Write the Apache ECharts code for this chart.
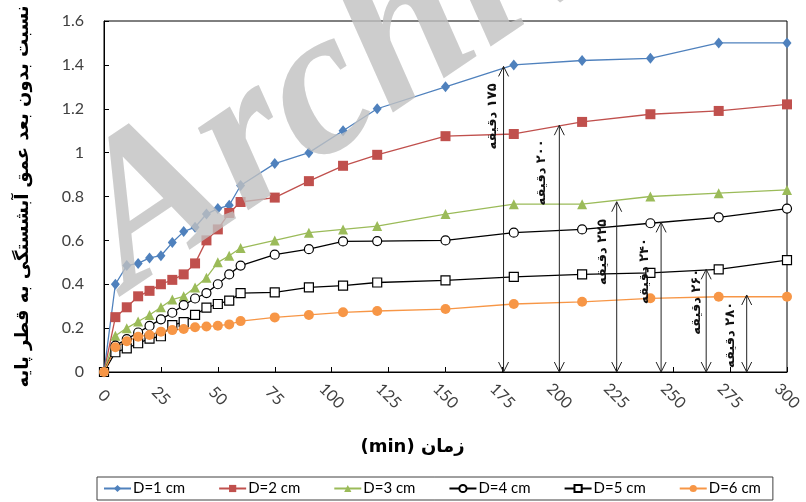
<!DOCTYPE html>
<html>
<head>
<meta charset="utf-8">
<script src="https://cdn.jsdelivr.net/npm/echarts@6/dist/echarts.min.js"></script>
<style>
html,body{margin:0;padding:0;background:#fff;}
#chart{width:806px;height:502px;}
</style>
</head>
<body>
<div id="chart"></div>
<script>
// ---- data ----
const times = [0,5,10,15,20,25,30,35,40,45,50,55,60,75,90,105,120,150,180,210,240,270,300];
const d1 = [0,0.40,0.485,0.495,0.52,0.53,0.59,0.64,0.66,0.72,0.745,0.76,0.85,0.95,1.00,1.10,1.20,1.30,1.40,1.42,1.43,1.50,1.50];
const d2 = [0,0.25,0.295,0.345,0.37,0.40,0.42,0.445,0.495,0.60,0.65,0.725,0.775,0.795,0.87,0.94,0.99,1.075,1.085,1.14,1.175,1.19,1.22];
const d3 = [0,0.165,0.20,0.23,0.26,0.295,0.33,0.345,0.385,0.43,0.50,0.53,0.565,0.60,0.635,0.65,0.665,0.72,0.765,0.765,0.80,0.815,0.83];
const d4 = [0,0.12,0.15,0.18,0.21,0.24,0.27,0.305,0.335,0.36,0.40,0.445,0.485,0.535,0.56,0.595,0.597,0.60,0.635,0.65,0.678,0.705,0.745];
const d5 = [0,0.09,0.108,0.131,0.152,0.163,0.214,0.227,0.26,0.293,0.31,0.325,0.36,0.363,0.386,0.394,0.408,0.418,0.434,0.445,0.452,0.468,0.51];
const d6 = [0,0.113,0.14,0.161,0.169,0.184,0.191,0.196,0.204,0.207,0.211,0.217,0.232,0.249,0.26,0.272,0.278,0.287,0.31,0.32,0.336,0.343,0.343];
const seriesNames = ['D=1 cm','D=2 cm','D=3 cm','D=4 cm','D=5 cm','D=6 cm'];
const xTicks = [0,25,50,75,100,125,150,175,200,225,250,275,300];
const yTicks = [0,0.2,0.4,0.6,0.8,1,1.2,1.4,1.6];
// annotation arrows: time, arrow top value, label time, label value
const annotTimes = [175.5,200,225.2,244.7,264.5,282.3];
const annotTops  = [1.393,1.125,0.776,0.682,0.468,0.351];
const annotLabelT = [170.8,192.3,219.2,237.6,260.3,275.2];
const annotLabelV = [1.165,0.91,0.547,0.46,0.32,0.169];
const annotLabels = ['۱۷۵ دقیقه','۲۰۰ دقیقه','۲۲۵ دقیقه','۲۴۰ دقیقه','۲۶۰ دقیقه','۲۸۰ دقیقه'];
const yTitle = 'نسبت بدون بعد عمق آبشستگی به قطر پایه';
const xTitle = '(min) زمان';
const watermark = 'Archive';

// ---- chart ----
const pair = arr => times.map((t,i)=>[t,arr[i]]);
const chart = echarts.init(document.getElementById('chart'), null, {renderer:'canvas'});
const baseFont = 'Lato, "Liberation Sans", sans-serif';
function lineSeries(name, data, color, symbol, size, fill, border){
  return {
    name, type:'line', data:pair(data), symbol, symbolSize:size,
    lineStyle:{color, width:1.3},
    itemStyle:{color:fill, borderColor:border||fill, borderWidth:border?1.2:0},
    emphasis:{disabled:true}, z:3
  };
}
const annotData = annotTimes.map((t,i)=>[t, annotTops[i], annotLabelT[i], annotLabelV[i]]);
const option = {
  animation:false,
  backgroundColor:'#fff',
  grid:{left:104,right:19,top:21,bottom:130,show:true,borderColor:'#000',borderWidth:1,containLabel:false,outerBoundsMode:'none'},
  xAxis:{
    type:'value', min:0, max:300, interval:25,
    axisLine:{show:true,lineStyle:{color:'#000',width:1}},
    axisTick:{show:true,inside:true,length:5,lineStyle:{color:'#000'}},
    splitLine:{show:false},
    axisLabel:{rotate:-45, margin:24, align:'center', verticalAlign:'middle', color:'#404040', fontSize:16, fontFamily:baseFont,
      formatter:v=> xTicks.indexOf(v)>=0 ? String(v) : ''},
    name:xTitle, nameLocation:'middle', nameGap:66,
    nameTextStyle:{fontSize:18, fontWeight:'bold', color:'#000', fontFamily:'"DejaVu Sans", Lato, sans-serif', padding:[0,66,0,0]}
  },
  yAxis:{
    type:'value', min:0, max:1.6, interval:0.2,
    axisLine:{show:true,lineStyle:{color:'#000',width:1}},
    axisTick:{show:true,inside:true,length:5,lineStyle:{color:'#000'}},
    splitLine:{show:false},
    axisLabel:{margin:20, color:'#404040', fontSize:16, fontFamily:baseFont,
      formatter:v=> String(Math.round(v*10)/10)},
    name:yTitle, nameLocation:'middle', nameGap:72, nameRotate:90,
    nameTextStyle:{fontSize:18, fontWeight:'bold', color:'#000', fontFamily:'"DejaVu Sans", sans-serif'}
  },
  legend:{
    data:seriesNames, left:97, top:477, orient:'horizontal',
    padding:[4,12,4,6], itemGap:33, itemWidth:27, itemHeight:9,
    borderColor:'#404040', borderWidth:1,
    textStyle:{fontSize:15, color:'#000', fontFamily:baseFont, padding:[0,0,0,-3]}
  },
  series:[
    lineSeries('D=1 cm', d1, '#4F81BD', 'diamond', [9,11], '#4F81BD'),
    lineSeries('D=2 cm', d2, '#C0504D', 'rect', 10, '#C0504D'),
    lineSeries('D=3 cm', d3, '#9BBB59', 'triangle', 10, '#9BBB59'),
    lineSeries('D=4 cm', d4, '#000000', 'circle', 9, '#ffffff', '#000000'),
    lineSeries('D=5 cm', d5, '#000000', 'rect', 9, '#ffffff', '#000000'),
    lineSeries('D=6 cm', d6, '#F79646', 'circle', 10, '#F79646'),
    {
      type:'custom', name:'annot', data:annotData, silent:true, z:5, clip:false,
      renderItem:(params, api)=>{
        const b = api.coord([api.value(0),0]);
        const tp = api.coord([api.value(0),api.value(1)]);
        const lp = api.coord([api.value(2),api.value(3)]);
        const st = {stroke:'#222', lineWidth:1, fill:null};
        return {type:'group', children:[
          {type:'line', shape:{x1:b[0],y1:b[1],x2:tp[0],y2:tp[1]}, style:st},
          {type:'polyline', shape:{points:[[tp[0]-5,tp[1]+10],[tp[0],tp[1]],[tp[0]+5,tp[1]+10]]}, style:st},
          {type:'polyline', shape:{points:[[b[0]-5,b[1]-10],[b[0],b[1]],[b[0]+5,b[1]-10]]}, style:st},
          {type:'text', x:lp[0], y:lp[1], rotation:Math.PI/2,
            style:{text:'\u202B'+annotLabels[params.dataIndex]+'\u202C', font:'bold 13px "DejaVu Sans", sans-serif', fill:'#111',
              align:'center', verticalAlign:'middle'}}
        ]};
      }
    }
  ],
  graphic:[
    {type:'text', x:98, y:246, rotation:34*Math.PI/180, z:100, silent:true,
      style:{text:watermark, font:'italic bold 210px "Liberation Serif", serif', fill:'rgba(192,192,192,0.8)',
        align:'left', verticalAlign:'middle'}}
  ]
};
chart.setOption(option);
</script>
</body>
</html>
